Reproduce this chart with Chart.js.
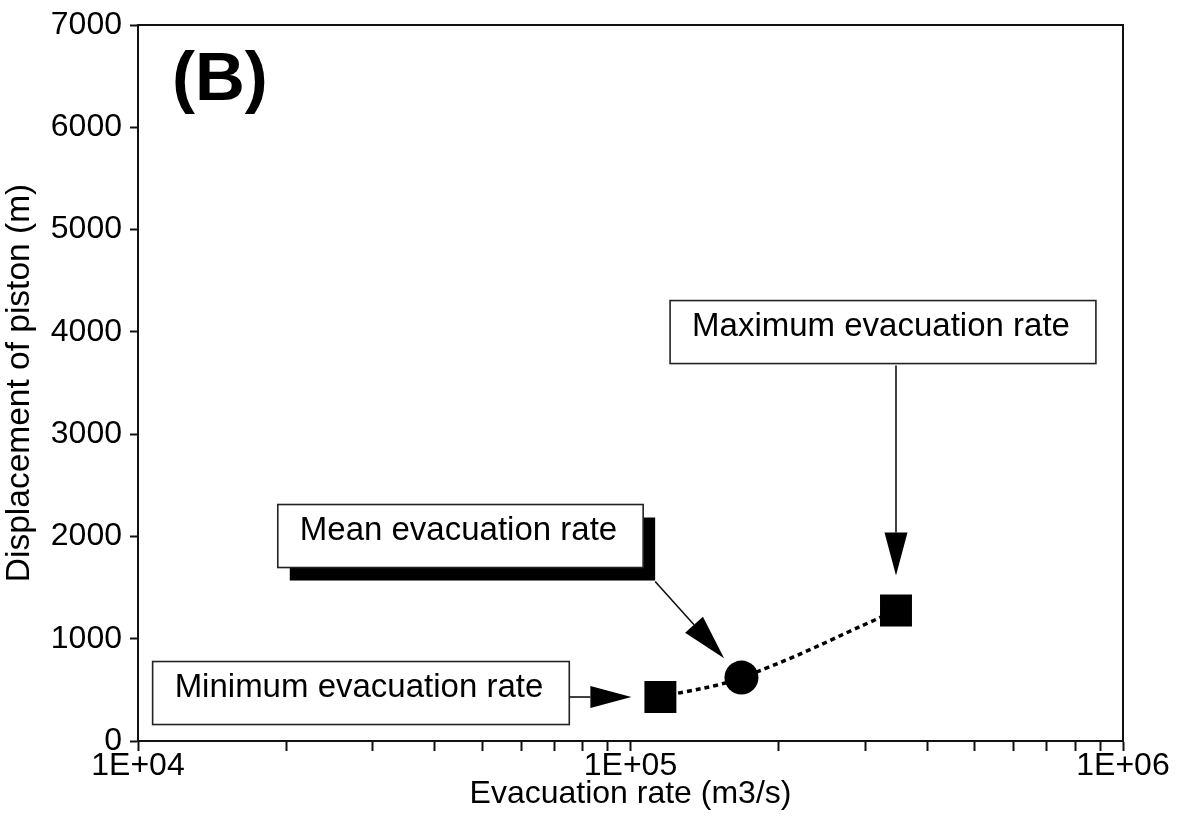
<!DOCTYPE html>
<html>
<head>
<meta charset="utf-8">
<title>Displacement of piston vs evacuation rate</title>
<script src="https://cdn.jsdelivr.net/npm/chart.js@4/dist/chart.umd.min.js"></script>
<style>
  html, body { margin: 0; padding: 0; background: #fff; }
  #wrap { width: 1189px; height: 827px; position: relative; }
</style>
</head>
<body>
<div id="wrap"><canvas id="chart"></canvas></div>
<script>
// Evacuation scenarios: minimum, mean and maximum
const rateLabels = ['Minimum evacuation rate', 'Mean evacuation rate', 'Maximum evacuation rate'];
const evacuationRate = [1.15e5, 1.68e5, 3.46e5];    // m3/s
const pistonDisplacement = [430, 620, 1275];         // m
const markerShapes = ['rect', 'circle', 'rect'];

// Axis ticks
const xTickValues = [1e4, 2e4, 3e4, 4e4, 5e4, 6e4, 7e4, 8e4, 9e4,
                     1e5, 2e5, 3e5, 4e5, 5e5, 6e5, 7e5, 8e5, 9e5, 1e6];
const xTickLabels = { 10000: '1E+04', 100000: '1E+05', 1000000: '1E+06' };
const yTickValues = [0, 1000, 2000, 3000, 4000, 5000, 6000, 7000];

const panelLetter = '(B)';
const FONT = '"Liberation Sans", Arial, Helvetica, sans-serif';

// Callout boxes: centre given in data units, arrow runs to the marker
const callouts = [
  { point: 0, cx: 2.836e4, cy: 469,  tail: 'right',  gap: 29, head: 41, half: 11, shadow: false },
  { point: 1, cx: 4.516e4, cy: 2004, tail: 'shadow', gap: 26, head: 45, half: 12, shadow: true },
  { point: 2, cx: 3.256e5, cy: 3998, tail: 'bottom', gap: 35, head: 43, half: 11.5, shadow: false }
];

function drawArrow(ctx, x0, y0, x1, y1, headLen, half) {
  const dx = x1 - x0, dy = y1 - y0;
  const len = Math.hypot(dx, dy);
  const ux = dx / len, uy = dy / len;
  const bx = x1 - ux * headLen, by = y1 - uy * headLen;
  ctx.beginPath();
  ctx.moveTo(x0, y0);
  ctx.lineTo(bx, by);
  ctx.lineWidth = 1.6;
  ctx.strokeStyle = '#111';
  ctx.stroke();
  ctx.beginPath();
  ctx.moveTo(x1, y1);
  ctx.lineTo(bx - uy * half, by + ux * half);
  ctx.lineTo(bx + uy * half, by - ux * half);
  ctx.closePath();
  ctx.fillStyle = '#000';
  ctx.fill();
}

const decorations = {
  id: 'decorations',
  beforeDatasetsDraw(chart) {
    const { ctx, chartArea: a } = chart;
    ctx.save();
    // top and right frame lines
    ctx.strokeStyle = '#111';
    ctx.lineWidth = 2;
    ctx.beginPath();
    ctx.moveTo(a.left, a.top);
    ctx.lineTo(a.right, a.top);
    ctx.lineTo(a.right, a.bottom);
    ctx.stroke();
    // panel letter
    ctx.fillStyle = '#000';
    ctx.font = 'bold 69px ' + FONT;
    ctx.textBaseline = 'alphabetic';
    ctx.textAlign = 'left';
    ctx.fillText(panelLetter, a.left + 34, a.top + 75);
    ctx.restore();
  },
  afterDatasetsDraw(chart) {
    const { ctx } = chart;
    const xs = chart.scales.x, ys = chart.scales.y;
    ctx.save();
    ctx.font = '33px ' + FONT;
    callouts.forEach(c => {
      const text = rateLabels[c.point];
      const tw = ctx.measureText(text).width;
      const w = tw + 48, h = 63;
      const cx = xs.getPixelForValue(c.cx), cy = ys.getPixelForValue(c.cy);
      const left = cx - w / 2, top = cy - h / 2;
      if (c.shadow) {
        ctx.fillStyle = '#000';
        ctx.fillRect(left + 12, top + 13, w, h);
      }
      ctx.fillStyle = '#fff';
      ctx.fillRect(left, top, w, h);
      ctx.strokeStyle = '#222';
      ctx.lineWidth = 1.6;
      ctx.strokeRect(left, top, w, h);
      ctx.fillStyle = '#000';
      ctx.textAlign = 'left';
      ctx.textBaseline = 'middle';
      ctx.fillText(text, left + 22, cy - 5);

      const px = xs.getPixelForValue(evacuationRate[c.point]);
      const py = ys.getPixelForValue(pistonDisplacement[c.point]);
      let tx, ty;
      if (c.tail === 'right') { tx = left + w; ty = py; }
      else if (c.tail === 'bottom') { tx = px; ty = top + h + 2; }
      else { tx = left + w + 12; ty = top + h + 14; }
      const d = Math.hypot(px - tx, py - ty);
      const ex = px - (px - tx) / d * c.gap, ey = py - (py - ty) / d * c.gap;
      drawArrow(ctx, tx, ty, ex, ey, c.head, c.half);
    });
    ctx.restore();
  }
};

new Chart(document.getElementById('chart'), {
  type: 'line',
  data: {
    datasets: [{
      label: 'Evacuation scenarios',
      data: evacuationRate.map((x, i) => ({ x: x, y: pistonDisplacement[i] })),
      borderColor: '#000',
      borderWidth: 3.5,
      borderDash: [5, 4],
      tension: 0.4,
      fill: false,
      pointStyle: markerShapes,
      pointRadius: markerShapes.map(s => s === 'rect' ? 22.6 : 17),
      pointBackgroundColor: '#000',
      pointBorderColor: '#000',
      pointBorderWidth: 0
    }]
  },
  options: {
    responsive: true,
    maintainAspectRatio: false,
    animation: false,
    events: [],
    layout: { padding: { left: 0, right: 66, top: 25, bottom: 0 } },
    plugins: { legend: { display: false }, tooltip: { enabled: false } },
    scales: {
      x: {
        type: 'logarithmic',
        position: 'bottom',
        min: 1e4,
        max: 1e6,
        afterBuildTicks: s => { s.ticks = xTickValues.map(v => ({ value: v })); },
        afterFit: s => { s.height = 86; },
        ticks: {
          autoSkip: false,
          maxRotation: 0,
          color: '#000',
          padding: -1,
          font: { family: FONT, size: 32, lineHeight: 1 },
          callback: v => xTickLabels[v] || ''
        },
        grid: { drawOnChartArea: false, drawTicks: true, tickLength: 10, tickWidth: 2, tickColor: '#111' },
        border: { display: true, color: '#111', width: 2 },
        title: {
          display: true,
          text: 'Evacuation rate (m3/s)',
          color: '#000',
          font: { family: FONT, size: 32, lineHeight: 1.2 },
          padding: { top: 0, bottom: 14 }
        }
      },
      y: {
        type: 'linear',
        position: 'left',
        min: 0,
        max: 7000,
        afterBuildTicks: s => { s.ticks = yTickValues.map(v => ({ value: v })); },
        afterFit: s => { s.width = 138; },
        ticks: {
          color: '#000',
          padding: 8,
          font: { family: FONT, size: 32, lineHeight: 1 },
          callback: v => String(v)
        },
        grid: { drawOnChartArea: false, drawTicks: true, tickLength: 8, tickWidth: 2, tickColor: '#111' },
        border: { display: true, color: '#111', width: 2 },
        title: {
          display: true,
          text: 'Displacement of piston (m)',
          color: '#000',
          font: { family: FONT, size: 33.5, lineHeight: 1.2 },
          padding: { top: 0, bottom: 0 }
        }
      }
    }
  },
  plugins: [decorations]
});
</script>
</body>
</html>
